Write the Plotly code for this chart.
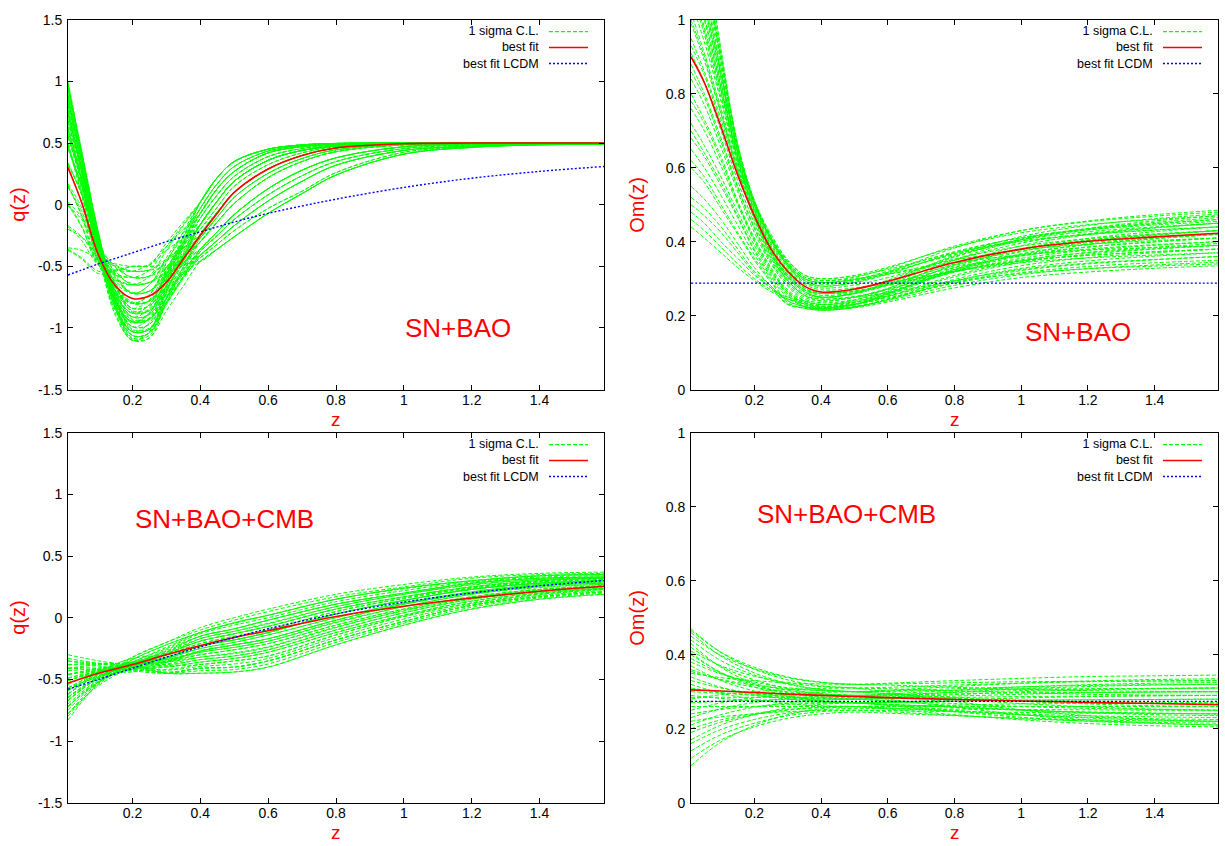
import plotly.graph_objects as go

# ---------------- data ----------------
# top-left: q(z), SN+BAO
Z_Q_SNBAO = [0.01, 0.05, 0.1, 0.15, 0.2, 0.25, 0.3, 0.35, 0.4, 0.45, 0.5, 0.6, 0.7, 0.8, 1.0, 1.2, 1.4, 1.59]
Q_SNBAO_SIGMA = [
    [1.00, 0.44, -0.25, -0.84, -1.10, -1.03, -0.66, -0.32, 0.02, 0.22, 0.35, 0.45, 0.485, 0.497, 0.50, 0.50, 0.50, 0.50],
    [0.98, 0.38, -0.38, -0.90, -1.10, -1.08, -0.79, -0.51, -0.24, -0.06, 0.10, 0.29, 0.40, 0.46, 0.495, 0.50, 0.50, 0.50],
    [0.95, 0.41, -0.29, -0.84, -1.09, -1.08, -0.86, -0.66, -0.46, -0.36, -0.26, -0.07, 0.09, 0.24, 0.41, 0.465, 0.485, 0.49],
    [0.88, 0.31, -0.41, -0.86, -1.03, -0.96, -0.65, -0.35, -0.07, 0.13, 0.27, 0.42, 0.47, 0.49, 0.50, 0.50, 0.50, 0.50],
    [0.86, 0.39, -0.24, -0.77, -1.02, -1.01, -0.71, -0.43, -0.16, 0.03, 0.19, 0.36, 0.44, 0.475, 0.495, 0.50, 0.50, 0.50],
    [0.90, 0.35, -0.35, -0.83, -1.03, -1.01, -0.80, -0.60, -0.41, -0.29, -0.17, 0.03, 0.19, 0.32, 0.44, 0.475, 0.49, 0.495],
    [0.84, 0.38, -0.23, -0.76, -1.01, -1.00, -0.76, -0.53, -0.30, -0.14, 0.01, 0.22, 0.35, 0.43, 0.485, 0.497, 0.50, 0.50],
    [0.75, 0.26, -0.39, -0.79, -0.95, -0.88, -0.57, -0.27, 0.02, 0.22, 0.35, 0.45, 0.485, 0.497, 0.50, 0.50, 0.50, 0.50],
    [0.73, 0.30, -0.30, -0.74, -0.94, -0.93, -0.69, -0.46, -0.24, -0.06, 0.10, 0.29, 0.40, 0.46, 0.495, 0.50, 0.50, 0.50],
    [0.77, 0.26, -0.42, -0.80, -0.95, -0.93, -0.73, -0.54, -0.36, -0.22, -0.08, 0.13, 0.28, 0.38, 0.47, 0.49, 0.495, 0.50],
    [0.70, 0.30, -0.28, -0.72, -0.93, -0.92, -0.66, -0.41, -0.16, 0.03, 0.19, 0.36, 0.44, 0.475, 0.495, 0.50, 0.50, 0.50],
    [0.62, 0.21, -0.37, -0.72, -0.88, -0.81, -0.55, -0.31, -0.07, 0.13, 0.27, 0.42, 0.47, 0.49, 0.50, 0.50, 0.50, 0.50],
    [0.60, 0.25, -0.27, -0.66, -0.87, -0.86, -0.66, -0.48, -0.30, -0.14, 0.01, 0.22, 0.35, 0.43, 0.485, 0.497, 0.50, 0.50],
    [0.64, 0.20, -0.42, -0.74, -0.88, -0.86, -0.70, -0.55, -0.41, -0.29, -0.17, 0.03, 0.19, 0.32, 0.44, 0.475, 0.49, 0.495],
    [0.58, 0.20, -0.34, -0.70, -0.86, -0.85, -0.62, -0.38, -0.16, 0.03, 0.19, 0.36, 0.44, 0.475, 0.495, 0.50, 0.50, 0.50],
    [0.48, 0.08, -0.48, -0.72, -0.80, -0.73, -0.47, -0.22, 0.02, 0.22, 0.35, 0.45, 0.485, 0.497, 0.50, 0.50, 0.50, 0.50],
    [0.46, 0.15, -0.33, -0.64, -0.79, -0.78, -0.59, -0.41, -0.24, -0.06, 0.10, 0.29, 0.40, 0.46, 0.495, 0.50, 0.50, 0.50],
    [0.50, 0.12, -0.42, -0.68, -0.80, -0.78, -0.67, -0.56, -0.46, -0.36, -0.26, -0.07, 0.09, 0.24, 0.41, 0.465, 0.485, 0.49],
    [0.32, 0.10, -0.29, -0.56, -0.72, -0.65, -0.45, -0.26, -0.07, 0.13, 0.27, 0.42, 0.47, 0.49, 0.50, 0.50, 0.50, 0.50],
    [0.30, 0.02, -0.42, -0.62, -0.71, -0.70, -0.51, -0.33, -0.16, 0.03, 0.19, 0.36, 0.44, 0.475, 0.495, 0.50, 0.50, 0.50],
    [0.34, 0.09, -0.33, -0.58, -0.72, -0.70, -0.58, -0.47, -0.36, -0.22, -0.08, 0.13, 0.28, 0.38, 0.47, 0.49, 0.495, 0.50],
    [0.16, -0.09, -0.49, -0.61, -0.65, -0.58, -0.37, -0.17, 0.02, 0.22, 0.35, 0.45, 0.485, 0.497, 0.50, 0.50, 0.50, 0.50],
    [0.14, -0.05, -0.39, -0.56, -0.64, -0.63, -0.51, -0.41, -0.30, -0.14, 0.01, 0.22, 0.35, 0.43, 0.485, 0.497, 0.50, 0.50],
    [0.00, -0.18, -0.49, -0.57, -0.59, -0.58, -0.46, -0.35, -0.24, -0.06, 0.10, 0.29, 0.40, 0.46, 0.495, 0.50, 0.50, 0.50],
    [0.02, -0.10, -0.34, -0.50, -0.59, -0.58, -0.52, -0.46, -0.41, -0.29, -0.17, 0.03, 0.19, 0.32, 0.44, 0.475, 0.49, 0.495],
    [-0.18, -0.29, -0.49, -0.53, -0.54, -0.48, -0.34, -0.20, -0.07, 0.13, 0.27, 0.42, 0.47, 0.49, 0.50, 0.50, 0.50, 0.50],
    [-0.20, -0.26, -0.40, -0.49, -0.54, -0.53, -0.51, -0.48, -0.46, -0.36, -0.26, -0.07, 0.09, 0.24, 0.41, 0.465, 0.485, 0.49],
    [-0.37, -0.44, -0.56, -0.54, -0.50, -0.49, -0.31, -0.14, 0.02, 0.22, 0.35, 0.45, 0.485, 0.497, 0.50, 0.50, 0.50, 0.50],
    [-0.35, -0.37, -0.44, -0.48, -0.50, -0.49, -0.37, -0.27, -0.16, 0.03, 0.19, 0.36, 0.44, 0.475, 0.495, 0.50, 0.50, 0.50],
    [-0.36, -0.43, -0.54, -0.53, -0.50, -0.50, -0.49, -0.48, -0.46, -0.36, -0.26, -0.07, 0.09, 0.24, 0.41, 0.465, 0.485, 0.49],
    [0.97, 0.44, -0.23, -0.82, -1.08, -1.06, -0.76, -0.45, -0.16, 0.03, 0.19, 0.36, 0.44, 0.475, 0.495, 0.50, 0.50, 0.50],
    [0.78, 0.30, -0.34, -0.78, -0.96, -0.88, -0.60, -0.33, -0.07, 0.13, 0.27, 0.42, 0.47, 0.49, 0.50, 0.50, 0.50, 0.50],
    [0.94, 0.41, -0.26, -0.81, -1.06, -1.04, -0.76, -0.50, -0.24, -0.06, 0.10, 0.29, 0.40, 0.46, 0.495, 0.50, 0.50, 0.50],
    [0.81, 0.30, -0.37, -0.80, -0.99, -0.97, -0.76, -0.56, -0.36, -0.22, -0.08, 0.13, 0.28, 0.38, 0.47, 0.49, 0.495, 0.50],
    [0.68, 0.28, -0.28, -0.70, -0.91, -0.84, -0.54, -0.26, 0.02, 0.22, 0.35, 0.45, 0.485, 0.497, 0.50, 0.50, 0.50, 0.50],
    [0.55, 0.17, -0.39, -0.70, -0.84, -0.82, -0.62, -0.43, -0.24, -0.06, 0.10, 0.29, 0.40, 0.46, 0.495, 0.50, 0.50, 0.50],
    [0.81, 0.36, -0.24, -0.74, -0.99, -0.97, -0.69, -0.42, -0.16, 0.03, 0.19, 0.36, 0.44, 0.475, 0.495, 0.50, 0.50, 0.50],
    [0.68, 0.22, -0.41, -0.77, -0.91, -0.89, -0.72, -0.56, -0.41, -0.29, -0.17, 0.03, 0.19, 0.32, 0.44, 0.475, 0.49, 0.495],
    [0.55, 0.20, -0.31, -0.66, -0.84, -0.77, -0.53, -0.29, -0.07, 0.13, 0.27, 0.42, 0.47, 0.49, 0.50, 0.50, 0.50, 0.50],
    [0.94, 0.38, -0.32, -0.84, -1.06, -1.04, -0.80, -0.58, -0.36, -0.22, -0.08, 0.13, 0.28, 0.38, 0.47, 0.49, 0.495, 0.50],
    [0.47, 0.16, -0.34, -0.64, -0.80, -0.78, -0.56, -0.36, -0.16, 0.03, 0.19, 0.36, 0.44, 0.475, 0.495, 0.50, 0.50, 0.50],
    [0.31, 0.02, -0.45, -0.64, -0.72, -0.70, -0.56, -0.43, -0.30, -0.14, 0.01, 0.22, 0.35, 0.43, 0.485, 0.497, 0.50, 0.50],
    [0.17, -0.02, -0.34, -0.54, -0.65, -0.63, -0.54, -0.45, -0.36, -0.22, -0.08, 0.13, 0.28, 0.38, 0.47, 0.49, 0.495, 0.50],
    [0.01, -0.17, -0.47, -0.56, -0.59, -0.53, -0.34, -0.16, 0.02, 0.22, 0.35, 0.45, 0.485, 0.497, 0.50, 0.50, 0.50, 0.50],
    [0.99, 0.40, -0.33, -0.88, -1.10, -1.03, -0.71, -0.40, -0.11, 0.08, 0.23, 0.39, 0.455, 0.485, 0.50, 0.50, 0.50, 0.50],
    [0.93, 0.42, -0.24, -0.80, -1.06, -1.04, -0.81, -0.59, -0.38, -0.25, -0.12, 0.08, 0.235, 0.35, 0.455, 0.485, 0.495, 0.50],
    [0.87, 0.34, -0.36, -0.84, -1.03, -1.01, -0.75, -0.51, -0.27, -0.10, 0.06, 0.255, 0.375, 0.445, 0.49, 0.50, 0.50, 0.50],
    [0.82, 0.34, -0.28, -0.76, -0.99, -0.92, -0.61, -0.31, -0.03, 0.17, 0.31, 0.435, 0.478, 0.494, 0.50, 0.50, 0.50, 0.50],
    [0.74, 0.28, -0.35, -0.77, -0.95, -0.93, -0.76, -0.59, -0.43, -0.32, -0.21, -0.03, 0.11, 0.26, 0.425, 0.47, 0.487, 0.493],
    [0.67, 0.29, -0.27, -0.70, -0.91, -0.89, -0.65, -0.42, -0.20, -0.02, 0.15, 0.325, 0.42, 0.47, 0.495, 0.50, 0.50, 0.50],
    [0.61, 0.19, -0.41, -0.74, -0.88, -0.81, -0.57, -0.33, -0.11, 0.08, 0.23, 0.39, 0.455, 0.485, 0.50, 0.50, 0.50, 0.50],
    [0.56, 0.20, -0.33, -0.67, -0.84, -0.82, -0.67, -0.52, -0.38, -0.25, -0.12, 0.08, 0.235, 0.35, 0.455, 0.485, 0.495, 0.50],
    [0.49, 0.10, -0.45, -0.70, -0.80, -0.78, -0.60, -0.43, -0.27, -0.10, 0.06, 0.255, 0.375, 0.445, 0.49, 0.50, 0.50, 0.50],
    [0.33, 0.08, -0.34, -0.59, -0.72, -0.65, -0.43, -0.23, -0.03, 0.17, 0.31, 0.435, 0.478, 0.494, 0.50, 0.50, 0.50, 0.50],
    [0.15, -0.08, -0.46, -0.60, -0.65, -0.63, -0.56, -0.49, -0.43, -0.32, -0.21, -0.03, 0.11, 0.26, 0.425, 0.47, 0.487, 0.493],
    [-0.01, -0.12, -0.37, -0.51, -0.59, -0.58, -0.45, -0.32, -0.20, -0.02, 0.15, 0.325, 0.42, 0.47, 0.495, 0.50, 0.50, 0.50],
    [-0.17, -0.26, -0.43, -0.50, -0.54, -0.53, -0.44, -0.35, -0.27, -0.10, 0.06, 0.255, 0.375, 0.445, 0.49, 0.50, 0.50, 0.50],
    [0.45, 0.15, -0.36, -0.66, -0.80, -0.73, -0.51, -0.31, -0.11, 0.08, 0.23, 0.39, 0.455, 0.485, 0.50, 0.50, 0.50, 0.50],
    [0.89, 0.38, -0.28, -0.80, -1.03, -1.01, -0.79, -0.58, -0.38, -0.25, -0.12, 0.08, 0.235, 0.35, 0.455, 0.485, 0.495, 0.50],
    [0.76, 0.27, -0.37, -0.78, -0.95, -0.88, -0.58, -0.30, -0.03, 0.17, 0.31, 0.435, 0.478, 0.494, 0.50, 0.50, 0.50, 0.50],
]
Q_SNBAO_BEST = [0.30, 0.02, -0.41, -0.66, -0.76, -0.74, -0.63, -0.44, -0.25, -0.07, 0.10, 0.29, 0.40, 0.46, 0.495, 0.50, 0.50, 0.50]
Q_SNBAO_LCDM = [-0.57, -0.53, -0.48, -0.435, -0.39, -0.345, -0.30, -0.26, -0.22, -0.18, -0.14, -0.07, -0.01, 0.045, 0.14, 0.215, 0.27, 0.31]

# top-right: Om(z), SN+BAO
Z_OM_SNBAO = [0.01, 0.05, 0.1, 0.15, 0.2, 0.25, 0.3, 0.35, 0.4, 0.5, 0.6, 0.8, 1.0, 1.2, 1.4, 1.59]
OM_SNBAO_SIGMA = [
    [1.40, 1.15, 0.90, 0.66, 0.51, 0.42, 0.35, 0.31, 0.30, 0.309, 0.331, 0.385, 0.424, 0.446, 0.46, 0.47],
    [1.30, 1.10, 0.87, 0.65, 0.51, 0.41, 0.34, 0.30, 0.29, 0.298, 0.317, 0.365, 0.40, 0.419, 0.431, 0.44],
    [1.20, 1.04, 0.84, 0.64, 0.50, 0.40, 0.33, 0.29, 0.28, 0.29, 0.317, 0.383, 0.43, 0.456, 0.473, 0.485],
    [1.10, 0.97, 0.80, 0.62, 0.48, 0.38, 0.31, 0.27, 0.26, 0.267, 0.285, 0.33, 0.362, 0.38, 0.392, 0.40],
    [1.02, 0.91, 0.76, 0.60, 0.47, 0.37, 0.30, 0.26, 0.25, 0.26, 0.286, 0.35, 0.396, 0.422, 0.438, 0.45],
    [0.95, 0.86, 0.73, 0.59, 0.47, 0.37, 0.31, 0.27, 0.26, 0.266, 0.282, 0.32, 0.348, 0.363, 0.373, 0.38],
    [0.88, 0.80, 0.68, 0.55, 0.44, 0.35, 0.29, 0.25, 0.24, 0.25, 0.274, 0.335, 0.379, 0.403, 0.419, 0.43],
    [0.80, 0.73, 0.63, 0.51, 0.41, 0.33, 0.27, 0.24, 0.23, 0.237, 0.253, 0.295, 0.325, 0.342, 0.352, 0.36],
    [0.70, 0.64, 0.56, 0.47, 0.38, 0.31, 0.26, 0.23, 0.22, 0.229, 0.251, 0.305, 0.344, 0.366, 0.38, 0.39],
    [0.60, 0.56, 0.49, 0.42, 0.35, 0.29, 0.235, 0.22, 0.215, 0.221, 0.237, 0.275, 0.303, 0.318, 0.328, 0.335],
    [0.52, 0.49, 0.44, 0.38, 0.32, 0.28, 0.232, 0.222, 0.22, 0.23, 0.256, 0.32, 0.366, 0.392, 0.408, 0.42],
    [0.44, 0.41, 0.37, 0.33, 0.295, 0.265, 0.245, 0.235, 0.225, 0.231, 0.248, 0.288, 0.316, 0.333, 0.343, 0.35],
    [1.38, 1.14, 0.89, 0.66, 0.51, 0.41, 0.34, 0.30, 0.29, 0.296, 0.312, 0.35, 0.378, 0.393, 0.403, 0.41],
    [1.28, 1.09, 0.86, 0.645, 0.505, 0.405, 0.335, 0.295, 0.28, 0.289, 0.312, 0.37, 0.411, 0.435, 0.449, 0.46],
    [1.18, 1.03, 0.83, 0.635, 0.495, 0.395, 0.325, 0.285, 0.27, 0.275, 0.288, 0.32, 0.343, 0.356, 0.364, 0.37],
    [1.08, 0.96, 0.79, 0.615, 0.475, 0.375, 0.305, 0.265, 0.25, 0.261, 0.289, 0.358, 0.407, 0.435, 0.452, 0.465],
    [1.00, 0.90, 0.75, 0.595, 0.465, 0.365, 0.295, 0.255, 0.245, 0.25, 0.262, 0.293, 0.314, 0.327, 0.334, 0.34],
    [0.86, 0.79, 0.67, 0.545, 0.435, 0.345, 0.285, 0.245, 0.235, 0.243, 0.265, 0.318, 0.355, 0.377, 0.39, 0.40],
    [0.78, 0.72, 0.62, 0.505, 0.405, 0.325, 0.265, 0.235, 0.225, 0.236, 0.266, 0.338, 0.389, 0.419, 0.437, 0.45],
    [0.68, 0.63, 0.55, 0.465, 0.375, 0.305, 0.255, 0.225, 0.215, 0.223, 0.243, 0.293, 0.328, 0.348, 0.361, 0.37],
    [0.93, 0.85, 0.72, 0.585, 0.465, 0.365, 0.305, 0.265, 0.25, 0.261, 0.291, 0.363, 0.414, 0.444, 0.462, 0.475],
    [0.62, 0.575, 0.50, 0.425, 0.355, 0.295, 0.24, 0.225, 0.22, 0.231, 0.26, 0.33, 0.381, 0.409, 0.427, 0.44],
    [0.50, 0.47, 0.425, 0.37, 0.315, 0.275, 0.23, 0.22, 0.215, 0.223, 0.245, 0.298, 0.335, 0.357, 0.37, 0.38],
    [0.46, 0.43, 0.385, 0.34, 0.30, 0.27, 0.25, 0.24, 0.23, 0.239, 0.262, 0.32, 0.361, 0.385, 0.399, 0.41],
    [1.12, 0.98, 0.81, 0.625, 0.485, 0.385, 0.315, 0.27, 0.255, 0.263, 0.285, 0.338, 0.375, 0.397, 0.41, 0.42],
    [1.22, 1.05, 0.85, 0.645, 0.505, 0.405, 0.335, 0.29, 0.275, 0.283, 0.303, 0.353, 0.388, 0.408, 0.421, 0.43],
    [1.55, 1.22, 0.92, 0.66, 0.50, 0.41, 0.34, 0.30, 0.29, 0.298, 0.32, 0.373, 0.41, 0.432, 0.445, 0.455],
    [1.45, 1.18, 0.90, 0.66, 0.51, 0.41, 0.345, 0.305, 0.295, 0.30, 0.312, 0.343, 0.364, 0.377, 0.384, 0.39],
    [1.16, 1.01, 0.82, 0.63, 0.49, 0.39, 0.32, 0.275, 0.26, 0.27, 0.296, 0.36, 0.406, 0.432, 0.448, 0.46],
    [0.99, 0.89, 0.745, 0.59, 0.46, 0.36, 0.295, 0.255, 0.24, 0.249, 0.271, 0.325, 0.364, 0.386, 0.40, 0.41],
    [0.84, 0.77, 0.655, 0.535, 0.425, 0.34, 0.28, 0.24, 0.23, 0.242, 0.273, 0.35, 0.405, 0.436, 0.456, 0.47],
    [0.72, 0.66, 0.575, 0.48, 0.39, 0.315, 0.26, 0.23, 0.22, 0.23, 0.258, 0.325, 0.373, 0.401, 0.417, 0.43],
    [0.55, 0.515, 0.46, 0.395, 0.33, 0.28, 0.24, 0.225, 0.218, 0.225, 0.244, 0.289, 0.322, 0.34, 0.351, 0.36],
    [1.35, 1.13, 0.885, 0.655, 0.505, 0.41, 0.345, 0.305, 0.295, 0.304, 0.328, 0.388, 0.43, 0.454, 0.469, 0.48],
    [1.26, 1.07, 0.855, 0.645, 0.505, 0.405, 0.335, 0.295, 0.285, 0.293, 0.315, 0.368, 0.405, 0.427, 0.44, 0.45],
    [1.05, 0.94, 0.78, 0.61, 0.475, 0.375, 0.305, 0.265, 0.25, 0.259, 0.282, 0.34, 0.381, 0.405, 0.419, 0.43],
    [0.91, 0.83, 0.70, 0.565, 0.45, 0.355, 0.295, 0.255, 0.245, 0.252, 0.271, 0.318, 0.351, 0.37, 0.381, 0.39],
    [0.76, 0.70, 0.605, 0.50, 0.40, 0.32, 0.265, 0.235, 0.225, 0.235, 0.26, 0.323, 0.367, 0.393, 0.408, 0.42],
    [0.65, 0.60, 0.525, 0.445, 0.365, 0.30, 0.25, 0.225, 0.218, 0.224, 0.241, 0.282, 0.311, 0.327, 0.337, 0.345],
    [1.48, 1.19, 0.91, 0.665, 0.51, 0.415, 0.35, 0.31, 0.30, 0.307, 0.325, 0.37, 0.402, 0.42, 0.432, 0.44],
    [1.14, 1.00, 0.815, 0.625, 0.485, 0.385, 0.315, 0.275, 0.26, 0.266, 0.282, 0.32, 0.348, 0.363, 0.373, 0.38],
    [0.48, 0.45, 0.40, 0.355, 0.31, 0.275, 0.245, 0.232, 0.222, 0.231, 0.253, 0.309, 0.348, 0.371, 0.385, 0.395],
]
OM_SNBAO_BEST = [0.90, 0.83, 0.71, 0.58, 0.47, 0.38, 0.32, 0.28, 0.264, 0.272, 0.293, 0.344, 0.38, 0.401, 0.413, 0.423]
OM_SNBAO_LCDM = [0.288] * len(Z_OM_SNBAO)

# bottom-left: q(z), SN+BAO+CMB
Z_Q_FULL = [0.01, 0.1, 0.2, 0.3, 0.4, 0.5, 0.6, 0.8, 1.0, 1.2, 1.4, 1.59]
Q_FULL_SIGMA = [
    [-0.30, -0.35, -0.39, -0.45, -0.45, -0.44, -0.40, -0.22, -0.06, 0.07, 0.15, 0.19],
    [-0.35, -0.39, -0.43, -0.45, -0.41, -0.40, -0.35, -0.18, -0.03, 0.10, 0.17, 0.21],
    [-0.41, -0.38, -0.37, -0.39, -0.38, -0.35, -0.31, -0.14, 0.01, 0.12, 0.19, 0.23],
    [-0.46, -0.42, -0.41, -0.39, -0.34, -0.31, -0.26, -0.10, 0.04, 0.15, 0.21, 0.24],
    [-0.51, -0.43, -0.38, -0.35, -0.30, -0.26, -0.21, -0.06, 0.07, 0.17, 0.23, 0.26],
    [-0.57, -0.48, -0.42, -0.36, -0.27, -0.22, -0.17, -0.02, 0.11, 0.20, 0.26, 0.28],
    [-0.62, -0.44, -0.33, -0.30, -0.23, -0.18, -0.12, 0.03, 0.14, 0.23, 0.28, 0.30],
    [-0.67, -0.49, -0.38, -0.29, -0.19, -0.13, -0.07, 0.07, 0.17, 0.25, 0.30, 0.32],
    [-0.72, -0.52, -0.39, -0.28, -0.15, -0.09, -0.02, 0.11, 0.20, 0.28, 0.32, 0.33],
    [-0.78, -0.52, -0.34, -0.22, -0.12, -0.04, 0.02, 0.15, 0.24, 0.30, 0.34, 0.35],
    [-0.83, -0.53, -0.32, -0.20, -0.08, 0.00, 0.07, 0.19, 0.27, 0.33, 0.36, 0.37],
    [-0.41, -0.42, -0.44, -0.36, -0.27, -0.22, -0.17, -0.02, 0.11, 0.20, 0.26, 0.28],
    [-0.51, -0.44, -0.38, -0.26, -0.15, -0.09, -0.02, 0.11, 0.20, 0.28, 0.32, 0.33],
    [-0.62, -0.46, -0.36, -0.38, -0.34, -0.31, -0.26, -0.10, 0.04, 0.15, 0.21, 0.24],
    [-0.72, -0.52, -0.40, -0.33, -0.23, -0.18, -0.12, 0.03, 0.14, 0.23, 0.28, 0.30],
    [-0.57, -0.44, -0.32, -0.20, -0.10, -0.02, 0.05, 0.17, 0.25, 0.32, 0.35, 0.36],
    [-0.46, -0.43, -0.42, -0.45, -0.41, -0.40, -0.35, -0.18, -0.03, 0.10, 0.17, 0.21],
    [-0.67, -0.48, -0.37, -0.34, -0.28, -0.24, -0.19, -0.04, 0.09, 0.19, 0.25, 0.27],
    [-0.78, -0.55, -0.40, -0.30, -0.17, -0.11, -0.05, 0.09, 0.19, 0.27, 0.31, 0.33],
    [-0.38, -0.37, -0.37, -0.36, -0.32, -0.29, -0.24, -0.08, 0.06, 0.16, 0.22, 0.25],
    [-0.59, -0.46, -0.39, -0.30, -0.21, -0.15, -0.10, 0.05, 0.16, 0.24, 0.29, 0.31],
    [-0.49, -0.44, -0.43, -0.42, -0.38, -0.35, -0.31, -0.14, 0.01, 0.12, 0.19, 0.23],
    [-0.65, -0.48, -0.34, -0.22, -0.12, -0.04, 0.02, 0.15, 0.24, 0.30, 0.34, 0.35],
    [-0.54, -0.44, -0.40, -0.45, -0.45, -0.44, -0.40, -0.22, -0.06, 0.07, 0.15, 0.19],
    [-0.43, -0.41, -0.38, -0.33, -0.25, -0.20, -0.14, 0.00, 0.12, 0.21, 0.27, 0.29],
    [-0.70, -0.50, -0.36, -0.25, -0.13, -0.06, 0.00, 0.13, 0.22, 0.29, 0.33, 0.34],
    [-0.75, -0.52, -0.39, -0.36, -0.30, -0.26, -0.21, -0.06, 0.07, 0.17, 0.23, 0.26],
    [-0.35, -0.37, -0.37, -0.29, -0.19, -0.13, -0.07, 0.07, 0.17, 0.25, 0.30, 0.32],
    [-0.62, -0.47, -0.41, -0.45, -0.43, -0.42, -0.375, -0.20, -0.045, 0.085, 0.16, 0.20],
    [-0.54, -0.44, -0.37, -0.32, -0.23, -0.18, -0.12, 0.03, 0.14, 0.23, 0.28, 0.30],
    [-0.80, -0.54, -0.38, -0.34, -0.27, -0.22, -0.17, -0.02, 0.11, 0.20, 0.26, 0.28],
    [-0.49, -0.42, -0.36, -0.28, -0.17, -0.11, -0.045, 0.09, 0.19, 0.265, 0.31, 0.325],
    [-0.645, -0.48, -0.40, -0.425, -0.395, -0.375, -0.33, -0.16, -0.01, 0.11, 0.18, 0.22],
    [-0.41, -0.40, -0.42, -0.40, -0.36, -0.33, -0.28, -0.12, 0.02, 0.135, 0.20, 0.235],
    [-0.33, -0.37, -0.40, -0.35, -0.28, -0.24, -0.19, -0.035, 0.09, 0.19, 0.245, 0.27],
    [-0.78, -0.53, -0.38, -0.305, -0.21, -0.155, -0.095, 0.05, 0.155, 0.24, 0.29, 0.31],
    [-0.51, -0.43, -0.39, -0.375, -0.32, -0.285, -0.235, -0.075, 0.055, 0.16, 0.225, 0.25],
    [-0.67, -0.49, -0.36, -0.24, -0.12, -0.045, 0.02, 0.15, 0.235, 0.30, 0.34, 0.35],
    [-0.46, -0.41, -0.38, -0.32, -0.23, -0.18, -0.12, 0.03, 0.14, 0.23, 0.28, 0.30],
    [-0.59, -0.46, -0.40, -0.40, -0.36, -0.33, -0.28, -0.12, 0.02, 0.135, 0.20, 0.235],
    [-0.38, -0.38, -0.36, -0.27, -0.15, -0.09, -0.02, 0.11, 0.20, 0.28, 0.32, 0.33],
    [-0.72, -0.51, -0.40, -0.44, -0.41, -0.40, -0.35, -0.18, -0.03, 0.10, 0.17, 0.21],
    [-0.57, -0.45, -0.37, -0.29, -0.19, -0.13, -0.07, 0.07, 0.17, 0.25, 0.30, 0.32],
    [-0.645, -0.48, -0.38, -0.33, -0.25, -0.20, -0.14, 0.00, 0.12, 0.21, 0.27, 0.29],
]
Q_FULL_BEST = [-0.53, -0.45, -0.38, -0.30, -0.225, -0.16, -0.105, 0.01, 0.093, 0.16, 0.215, 0.255]
Q_FULL_LCDM = [-0.58, -0.50, -0.41, -0.32, -0.237, -0.16, -0.089, 0.031, 0.127, 0.201, 0.259, 0.302]

# bottom-right: Om(z), SN+BAO+CMB
Z_OM_FULL = [0.01, 0.1, 0.2, 0.3, 0.4, 0.5, 0.6, 0.8, 1.0, 1.2, 1.4, 1.59]
OM_FULL_SIGMA = [
    [0.47, 0.406, 0.361, 0.332, 0.316, 0.31, 0.299, 0.274, 0.251, 0.235, 0.225, 0.22],
    [0.45, 0.398, 0.362, 0.338, 0.325, 0.32, 0.318, 0.312, 0.307, 0.303, 0.301, 0.30],
    [0.44, 0.384, 0.345, 0.32, 0.306, 0.30, 0.294, 0.28, 0.268, 0.259, 0.253, 0.25],
    [0.42, 0.368, 0.332, 0.308, 0.295, 0.29, 0.28, 0.258, 0.238, 0.224, 0.215, 0.21],
    [0.41, 0.37, 0.342, 0.324, 0.314, 0.31, 0.308, 0.302, 0.297, 0.293, 0.291, 0.29],
    [0.40, 0.352, 0.318, 0.297, 0.285, 0.28, 0.275, 0.262, 0.251, 0.243, 0.238, 0.235],
    [0.38, 0.348, 0.326, 0.311, 0.303, 0.30, 0.302, 0.308, 0.313, 0.317, 0.319, 0.32],
    [0.37, 0.33, 0.302, 0.284, 0.274, 0.27, 0.264, 0.25, 0.238, 0.229, 0.223, 0.22],
    [0.36, 0.332, 0.312, 0.30, 0.293, 0.29, 0.288, 0.282, 0.277, 0.273, 0.271, 0.27],
    [0.35, 0.338, 0.33, 0.324, 0.321, 0.32, 0.323, 0.33, 0.336, 0.341, 0.343, 0.345],
    [0.33, 0.31, 0.296, 0.287, 0.282, 0.28, 0.276, 0.268, 0.26, 0.255, 0.252, 0.25],
    [0.32, 0.296, 0.279, 0.268, 0.262, 0.26, 0.253, 0.238, 0.224, 0.214, 0.208, 0.205],
    [0.30, 0.296, 0.293, 0.291, 0.29, 0.29, 0.291, 0.294, 0.297, 0.298, 0.299, 0.30],
    [0.29, 0.282, 0.276, 0.273, 0.271, 0.27, 0.266, 0.258, 0.25, 0.245, 0.242, 0.24],
    [0.27, 0.274, 0.277, 0.279, 0.28, 0.28, 0.284, 0.292, 0.30, 0.305, 0.308, 0.31],
    [0.26, 0.26, 0.26, 0.26, 0.26, 0.26, 0.256, 0.248, 0.24, 0.235, 0.232, 0.23],
    [0.25, 0.27, 0.284, 0.293, 0.298, 0.30, 0.304, 0.314, 0.323, 0.329, 0.333, 0.335],
    [0.24, 0.252, 0.26, 0.266, 0.269, 0.27, 0.271, 0.274, 0.277, 0.278, 0.279, 0.28],
    [0.22, 0.232, 0.24, 0.246, 0.249, 0.25, 0.246, 0.236, 0.227, 0.221, 0.217, 0.215],
    [0.21, 0.238, 0.258, 0.27, 0.277, 0.28, 0.282, 0.288, 0.293, 0.297, 0.299, 0.30],
    [0.20, 0.224, 0.241, 0.252, 0.258, 0.26, 0.26, 0.26, 0.26, 0.26, 0.26, 0.26],
    [0.17, 0.21, 0.238, 0.256, 0.266, 0.27, 0.272, 0.278, 0.283, 0.287, 0.289, 0.29],
    [0.14, 0.184, 0.215, 0.235, 0.246, 0.25, 0.249, 0.246, 0.244, 0.242, 0.241, 0.24],
    [0.10, 0.164, 0.209, 0.238, 0.254, 0.26, 0.261, 0.264, 0.267, 0.268, 0.269, 0.27],
    [0.43, 0.366, 0.321, 0.292, 0.276, 0.27, 0.263, 0.246, 0.231, 0.22, 0.214, 0.21],
    [0.28, 0.292, 0.30, 0.306, 0.309, 0.31, 0.312, 0.318, 0.323, 0.327, 0.329, 0.33],
    [0.46, 0.396, 0.351, 0.322, 0.306, 0.30, 0.295, 0.284, 0.274, 0.267, 0.262, 0.26],
    [0.39, 0.35, 0.322, 0.304, 0.294, 0.29, 0.294, 0.304, 0.313, 0.319, 0.323, 0.325],
    [0.34, 0.312, 0.292, 0.28, 0.273, 0.27, 0.271, 0.274, 0.277, 0.278, 0.279, 0.28],
    [0.23, 0.254, 0.271, 0.282, 0.288, 0.29, 0.292, 0.298, 0.303, 0.307, 0.309, 0.31],
    [0.19, 0.218, 0.238, 0.25, 0.257, 0.26, 0.256, 0.246, 0.237, 0.231, 0.227, 0.225],
    [0.31, 0.298, 0.29, 0.284, 0.281, 0.28, 0.281, 0.284, 0.287, 0.288, 0.289, 0.29],
    [0.465, 0.407, 0.366, 0.34, 0.326, 0.32, 0.321, 0.324, 0.327, 0.328, 0.329, 0.33],
    [0.405, 0.351, 0.313, 0.289, 0.275, 0.27, 0.266, 0.258, 0.25, 0.245, 0.242, 0.24],
    [0.355, 0.333, 0.318, 0.308, 0.303, 0.30, 0.301, 0.304, 0.307, 0.308, 0.309, 0.31],
    [0.16, 0.198, 0.225, 0.242, 0.251, 0.255, 0.254, 0.253, 0.252, 0.251, 0.25, 0.25],
    [0.12, 0.17, 0.205, 0.228, 0.24, 0.245, 0.242, 0.235, 0.229, 0.224, 0.221, 0.22],
    [0.285, 0.285, 0.285, 0.285, 0.285, 0.285, 0.289, 0.299, 0.308, 0.314, 0.318, 0.32],
]
OM_FULL_BEST = [0.305, 0.302, 0.298, 0.294, 0.29, 0.287, 0.284, 0.279, 0.275, 0.271, 0.268, 0.265]
OM_FULL_LCDM = [0.274] * len(Z_OM_FULL)

X_TICKS = [0.2, 0.4, 0.6, 0.8, 1.0, 1.2, 1.4]
X_TICK_TEXT = ["0.2", "0.4", "0.6", "0.8", "1", "1.2", "1.4"]
Q_TICKS = [-1.5, -1.0, -0.5, 0.0, 0.5, 1.0, 1.5]
Q_TICK_TEXT = ["-1.5", "-1", "-0.5", "0", "0.5", "1", "1.5"]
OM_TICKS = [0, 0.2, 0.4, 0.6, 0.8, 1.0]
OM_TICK_TEXT = ["0", "0.2", "0.4", "0.6", "0.8", "1"]
LEGEND_LABELS = ["1 sigma C.L.", "best fit", "best fit LCDM"]

# ---------------- styling ----------------
W, H = 1225, 846
FONT = "Liberation Sans, Arial, Helvetica, sans-serif"
GREEN, RED, BLUE = "#00ff00", "#ff0000", "#0000ff"
GREEN_DASH, BLUE_DASH = "4px,2px", "2px,2px"
KEY_FONT = 12.5
KEY_STEP = KEY_FONT * 1.3

# plot boxes in pixels (left, right, top, bottom)
BOX = {
    1: (68, 604, 12, 389),
    2: (691, 1218, 12, 389),
    3: (68, 604, 433, 810),
    4: (691, 1218, 433, 810),
}

panels = [
    (1, Z_Q_SNBAO, Q_SNBAO_SIGMA, Q_SNBAO_BEST, Q_SNBAO_LCDM, "q(z)", "SN+BAO", (1.16, -1.0)),
    (2, Z_OM_SNBAO, OM_SNBAO_SIGMA, OM_SNBAO_BEST, OM_SNBAO_LCDM, "Om(z)", "SN+BAO", (1.17, 0.156)),
    (3, Z_Q_FULL, Q_FULL_SIGMA, Q_FULL_BEST, Q_FULL_LCDM, "q(z)", "SN+BAO+CMB", (0.47, 0.805)),
    (4, Z_OM_FULL, OM_FULL_SIGMA, OM_FULL_BEST, OM_FULL_LCDM, "Om(z)", "SN+BAO+CMB", (0.475, 0.78)),
]

fig = go.Figure()
annotations = []
shapes = []

for idx, zs, sigma, best, lcdm, ylab, tag, tagpos in panels:
    xa = "x" if idx == 1 else f"x{idx}"
    ya = "y" if idx == 1 else f"y{idx}"
    for curve in sigma:
        fig.add_trace(go.Scatter(x=zs, y=curve, mode="lines", xaxis=xa, yaxis=ya,
                                 line=dict(color=GREEN, width=1, dash=GREEN_DASH, shape="spline", smoothing=1.0),
                                 showlegend=False, hoverinfo="skip"))
    fig.add_trace(go.Scatter(x=zs, y=best, mode="lines", xaxis=xa, yaxis=ya,
                             line=dict(color=RED, width=1.6, shape="spline", smoothing=1.0),
                             showlegend=False, hoverinfo="skip"))
    fig.add_trace(go.Scatter(x=zs, y=lcdm, mode="lines", xaxis=xa, yaxis=ya,
                             line=dict(color=BLUE, width=1.4, dash=BLUE_DASH, shape="spline", smoothing=1.0),
                             showlegend=False, hoverinfo="skip"))

    l, r, t, b = BOX[idx]
    xdom = [l / W, r / W]
    ydom = [1 - b / H, 1 - t / H]
    is_q = ylab == "q(z)"
    axis_common = dict(showline=True, mirror="ticks", linecolor="black", linewidth=1,
                       ticks="inside", ticklen=5, tickcolor="black", tickwidth=1,
                       showgrid=False, zeroline=False,
                       tickfont=dict(family=FONT, size=14, color="black"))
    xkey = "xaxis" if idx == 1 else f"xaxis{idx}"
    ykey = "yaxis" if idx == 1 else f"yaxis{idx}"
    fig.layout[xkey] = dict(domain=xdom, anchor=ya, range=[0.01, 1.59],
                            tickmode="array", tickvals=X_TICKS, ticktext=X_TICK_TEXT,
                            ticklabelstandoff=-2,
                            **axis_common)
    fig.layout[ykey] = dict(domain=ydom, anchor=xa,
                            range=[-1.5, 1.5] if is_q else [0, 1],
                            tickmode="array",
                            tickvals=Q_TICKS if is_q else OM_TICKS,
                            ticktext=Q_TICK_TEXT if is_q else OM_TICK_TEXT,
                            ticklabelstandoff=2,
                            **axis_common)

    # axis titles
    annotations.append(dict(text="z", xref=f"{xa} domain", yref="paper", x=0.5,
                            y=1 - (b + 30) / H, xanchor="center", yanchor="middle",
                            showarrow=False, font=dict(family=FONT, size=19, color=RED)))
    annotations.append(dict(text=ylab, xref="paper", yref=f"{ya} domain",
                            x=(l - (50 if is_q else 54)) / W, y=0.5, textangle=-90,
                            xanchor="center", yanchor="middle", showarrow=False,
                            font=dict(family=FONT, size=20, color=RED)))
    # data-set label
    annotations.append(dict(text=tag, xref=xa, yref=ya, x=tagpos[0], y=tagpos[1],
                            xanchor="center", yanchor="middle", showarrow=False,
                            font=dict(family=FONT, size=26, color=RED)))
    # manual gnuplot-style key (text right-aligned, sample on the right)
    pw, ph = r - l, b - t
    annotations.append(dict(text="<br>".join(LEGEND_LABELS), xref=f"{xa} domain", yref=f"{ya} domain",
                            x=1 - 63 / pw, y=1 - (12 + KEY_STEP) / ph, xanchor="right", yanchor="middle",
                            align="right", showarrow=False,
                            font=dict(family=FONT, size=KEY_FONT, color="black")))
    styles = [dict(color=GREEN, width=1.3, dash=GREEN_DASH),
              dict(color=RED, width=1.6),
              dict(color=BLUE, width=1.4, dash=BLUE_DASH)]
    for k, st in enumerate(styles):
        yy = 1 - (12 + KEY_STEP * k) / ph
        shapes.append(dict(type="line", xref=f"{xa} domain", yref=f"{ya} domain",
                           x0=1 - 55 / pw, x1=1 - 16 / pw, y0=yy, y1=yy, line=st))

fig.update_layout(width=W, height=H, margin=dict(l=0, r=0, t=0, b=0),
                  paper_bgcolor="white", plot_bgcolor="white",
                  annotations=annotations, shapes=shapes, showlegend=False,
                  font=dict(family=FONT, color="black"))

fig.write_html("out.html", config={"displayModeBar": False},
               post_script="document.body.style.margin='0';document.body.style.overflow='hidden';")
